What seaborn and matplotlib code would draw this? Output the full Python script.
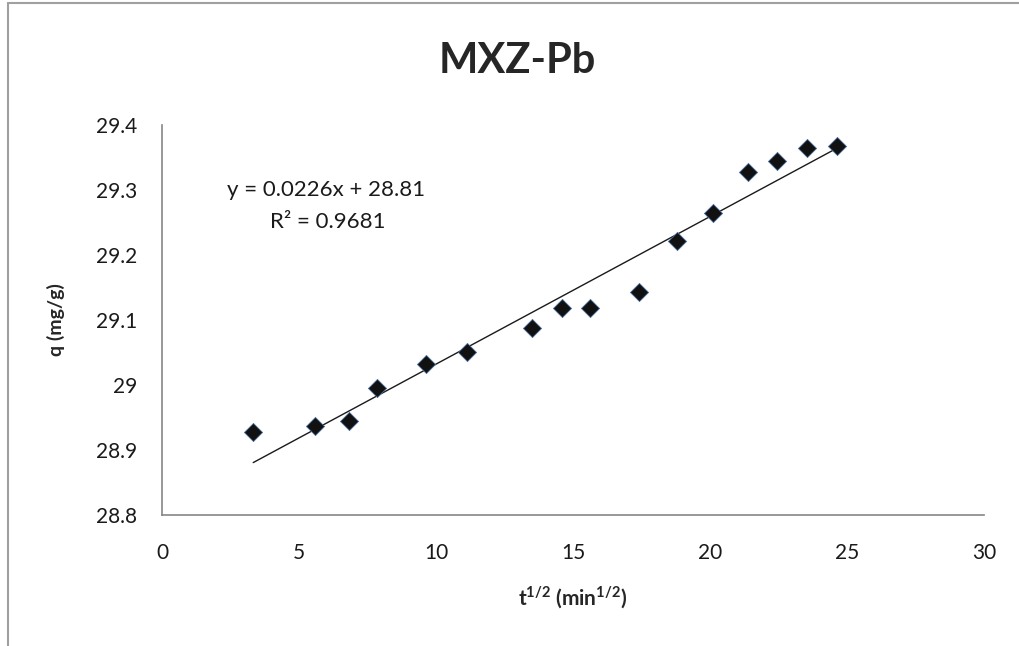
import matplotlib
matplotlib.use("Agg")
import matplotlib.pyplot as plt
from matplotlib.lines import Line2D
import pandas as pd
import seaborn as sns

# values
t_sqrt = [3.33, 5.58, 6.82, 7.84, 9.62, 11.12, 13.5, 14.6, 15.62,
          17.41, 18.8, 20.1, 21.39, 22.45, 23.54, 24.64]
q = [28.927, 28.937, 28.944, 28.996, 29.032, 29.051, 29.088, 29.118, 29.118,
     29.143, 29.222, 29.265, 29.328, 29.345, 29.365, 29.368]
x_ticks = [0, 5, 10, 15, 20, 25, 30]
y_ticks = [28.8, 28.9, 29.0, 29.1, 29.2, 29.3, 29.4]
y_tick_labels = ["28.8", "28.9", "29", "29.1", "29.2", "29.3", "29.4"]

df = pd.DataFrame({"t": t_sqrt, "q": q})

sns.set_style("white")
plt.rcParams["font.family"] = ["Lato", "DejaVu Sans"]
plt.rcParams["mathtext.fontset"] = "custom"
plt.rcParams["mathtext.rm"] = "Lato"
plt.rcParams["mathtext.bf"] = "Lato:bold"

fig = plt.figure(figsize=(10.2, 6.46), dpi=100)
ax = fig.add_axes([0.1588, 0.2028, 0.8059, 0.6037])

sns.regplot(data=df, x="t", y="q", ax=ax, ci=None, marker="D",
            scatter_kws=dict(s=85, color="#111111", edgecolors="#4a6e9c",
                             linewidths=0.6, alpha=1, zorder=3),
            line_kws=dict(color="#1a1a1a", lw=1.0, zorder=2))

ax.set_xlim(0, 30)
ax.set_ylim(28.8, 29.4)
ax.set_xticks(x_ticks)
ax.set_yticks(y_ticks)
ax.set_yticklabels(y_tick_labels)
ax.tick_params(axis="both", direction="out", length=6, width=1,
               color="#868686", labelsize=15, labelcolor="#1a1a1a")
ax.tick_params(axis="x", pad=14)
ax.tick_params(axis="y", pad=12)
for side in ["top", "right"]:
    ax.spines[side].set_visible(False)
for side in ["left", "bottom"]:
    ax.spines[side].set_color("#868686")
    ax.spines[side].set_linewidth(1.2)

ax.set_xlabel(r"t$^{\mathbf{1/2}}$ (min$^{\mathbf{1/2}}$)", fontsize=15,
              fontweight="bold", labelpad=16)
ax.set_ylabel("q (mg/g)", fontsize=14, fontweight="bold", labelpad=22)
fig.text(0.507, 0.905, "MXZ-Pb", fontsize=30, fontweight="bold",
         ha="center", va="center")

ax.text(6.0, 29.3, "y = 0.0226x + 28.81", fontsize=16, ha="center",
        va="center", color="#1a1a1a")
ax.text(6.05, 29.25, "R² = 0.9681", fontsize=16, ha="center",
        va="center", color="#1a1a1a")

# chart area border (left and top edge visible in the reference)
fig.add_artist(Line2D([0.008, 0.008], [0.0, 0.995], transform=fig.transFigure,
                      color="#a0a0a0", lw=1.5))
fig.add_artist(Line2D([0.008, 1.0], [0.995, 0.995], transform=fig.transFigure,
                      color="#a0a0a0", lw=1.5))

fig.savefig("out.png", dpi=100)
